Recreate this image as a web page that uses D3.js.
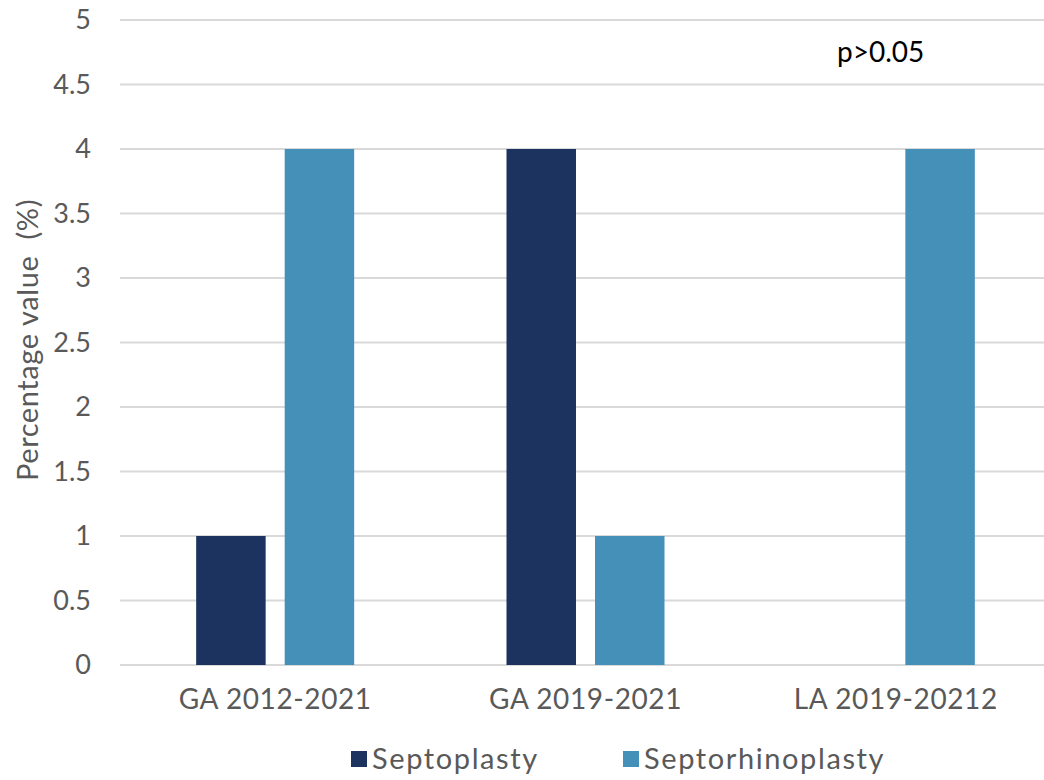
<!DOCTYPE html>
<html>
<head>
<meta charset="utf-8">
<script src="https://cdn.jsdelivr.net/npm/d3@7"></script>
<style>
	body { margin: 0; background: #fff; }
	svg text { font-family: Lato, "Open Sans", sans-serif; fill: #595959; }
</style>
</head>
<body>
<div class="chart"></div>
<script>
var categories = ["GA 2012-2021", "GA 2019-2021", "LA 2019-20212"];
var series = ["Septoplasty", "Septorhinoplasty"];
var septoplasty = [1, 4, 0];
var septorhinoplasty = [4, 1, 4];
var yTicks = [0, 0.5, 1, 1.5, 2, 2.5, 3, 3.5, 4, 4.5, 5];
var colors = ["#1c335f", "#4590b9"];

var width = 1044, height = 780;
var svg = d3.select(".chart").append("svg")
	.attr("width", width)
	.attr("height", height);

var x0 = d3.scaleBand()
	.domain(categories)
	.range([120, 1051]);

var bw = x0.bandwidth();
var x1 = d3.scaleBand()
	.domain(series)
	.range([bw/2 - 79, bw/2 + 79])
	.paddingInner(0.215);

var y = d3.scaleLinear()
	.domain([0, 5])
	.range([665, 20]);

//gridlines
svg.append("g").selectAll("line")
	.data(yTicks)
	.enter().append("line")
	.attr("x1", 120)
	.attr("x2", width)
	.attr("y1", function(d){ return y(d) })
	.attr("y2", function(d){ return y(d) })
	.attr("stroke", "#d9d9d9")
	.attr("stroke-width", 2);

//y tick labels
var yAxis = d3.axisLeft(y).tickValues(yTicks).tickSize(0).tickPadding(0)
	.tickFormat(function(d){ return String(d) });
var gy = svg.append("g").attr("transform", "translate(91,0)").call(yAxis);
gy.select(".domain").remove();
gy.selectAll("text")
	.attr("font-size", 27)
	.attr("fill", "#595959")
	.attr("font-family", "Lato, 'Open Sans', sans-serif");

//bars
var rows = categories.map(function(c, i) {
	return {cat: c, vals: [septoplasty[i], septorhinoplasty[i]]};
});

var groups = svg.append("g").selectAll("g")
	.data(rows)
	.enter().append("g")
	.attr("transform", function(d){ return "translate(" + x0(d.cat) + ",0)" });

groups.selectAll("rect")
	.data(function(d){ return d.vals.map(function(v, j){ return {s: series[j], v: v, j: j} }) })
	.enter().append("rect")
	.attr("x", function(d){ return x1(d.s) })
	.attr("width", x1.bandwidth())
	.attr("y", function(d){ return y(d.v) })
	.attr("height", function(d){ return y(0) - y(d.v) })
	.attr("fill", function(d){ return colors[d.j] });

//x axis labels
var xAxis = d3.axisBottom(x0).tickSize(0).tickPadding(0);
var gx = svg.append("g").attr("transform", "translate(0,689)").call(xAxis);
gx.select(".domain").remove();
gx.selectAll("text")
	.attr("font-size", 28)
	.attr("letter-spacing", 0.6)
	.attr("fill", "#595959")
	.attr("font-family", "Lato, 'Open Sans', sans-serif");

//y axis title
svg.append("text")
	.attr("transform", "translate(38,340) rotate(-90)")
	.attr("text-anchor", "middle")
	.attr("font-size", 29)
	.attr("letter-spacing", 0.6)
	.style("white-space", "pre")
	.text("Percentage value  (%)");

//legend
var legendX = [351, 623];
var legend = svg.append("g").selectAll("g")
	.data(series)
	.enter().append("g")
	.attr("transform", function(d, i){ return "translate(" + legendX[i] + ",751)" });
legend.append("rect")
	.attr("width", 16)
	.attr("height", 16)
	.attr("fill", function(d, i){ return colors[i] });
legend.append("text")
	.attr("x", 21)
	.attr("y", 18)
	.attr("font-size", 29)
	.attr("letter-spacing", 1.6)
	.text(function(d){ return d });

//annotation
svg.append("text")
	.attr("x", 837)
	.attr("y", 62)
	.attr("font-size", 28)
	.attr("font-family", "'Open Sans', sans-serif")
	.style("fill", "#000")
	.text("p>0.05");
</script>
</body>
</html>
